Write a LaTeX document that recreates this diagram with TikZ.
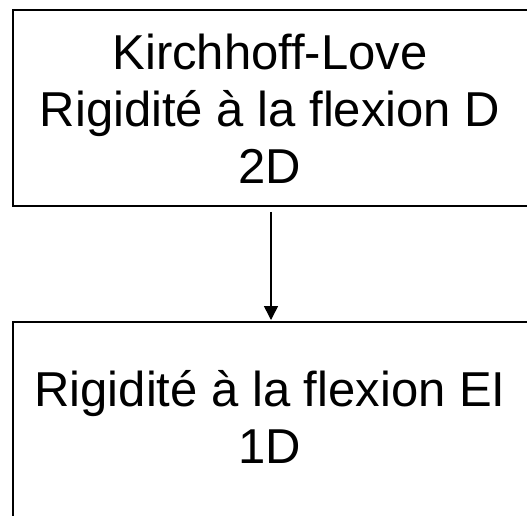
\documentclass[tikz,border=0pt]{standalone}
\usepackage{fontspec}
\setmainfont{Liberation Sans}
\usetikzlibrary{arrows.meta}
\begin{document}
\begin{tikzpicture}[x=1pt,y=-1pt,
  boxstyle/.style={rectangle,inner sep=0pt,anchor=north west},
  boxline/.style={line width=1.6pt},
  txt/.style={align=center,font=\fontsize{49}{57}\selectfont,inner sep=0pt},
  arr/.style={-{Triangle[length=14pt,width=14pt]},line width=1.6pt}]
\useasboundingbox (0,0) rectangle (527,515);
\clip (0,0) rectangle (527,515);
\fill[white] (0,0) rectangle (527,515);
\node[boxstyle,minimum width=530pt,minimum height=195.5pt] (top) at (13,10) {};
\node[boxstyle,minimum width=530pt,minimum height=260pt] (bot) at (13,322) {};
\draw[boxline] (top.north east) -- (top.north west) -- (top.south west) -- (top.south east);
\draw[boxline] (bot.north east) -- (bot.north west) -- (bot.south west);
\node[txt] (toptext) at (270,109.2) {Kirchhoff-Love\\Rigidité à la flexion D\\2D};
\node[txt] (bottext) at (270,417.2) {Rigidité à la flexion EI\\1D};
\coordinate (ax) at (271,0);
\draw[arr,shorten <=6pt,shorten >=2pt] (top.south -| ax) -- (bot.north -| ax);
\end{tikzpicture}
\end{document}
